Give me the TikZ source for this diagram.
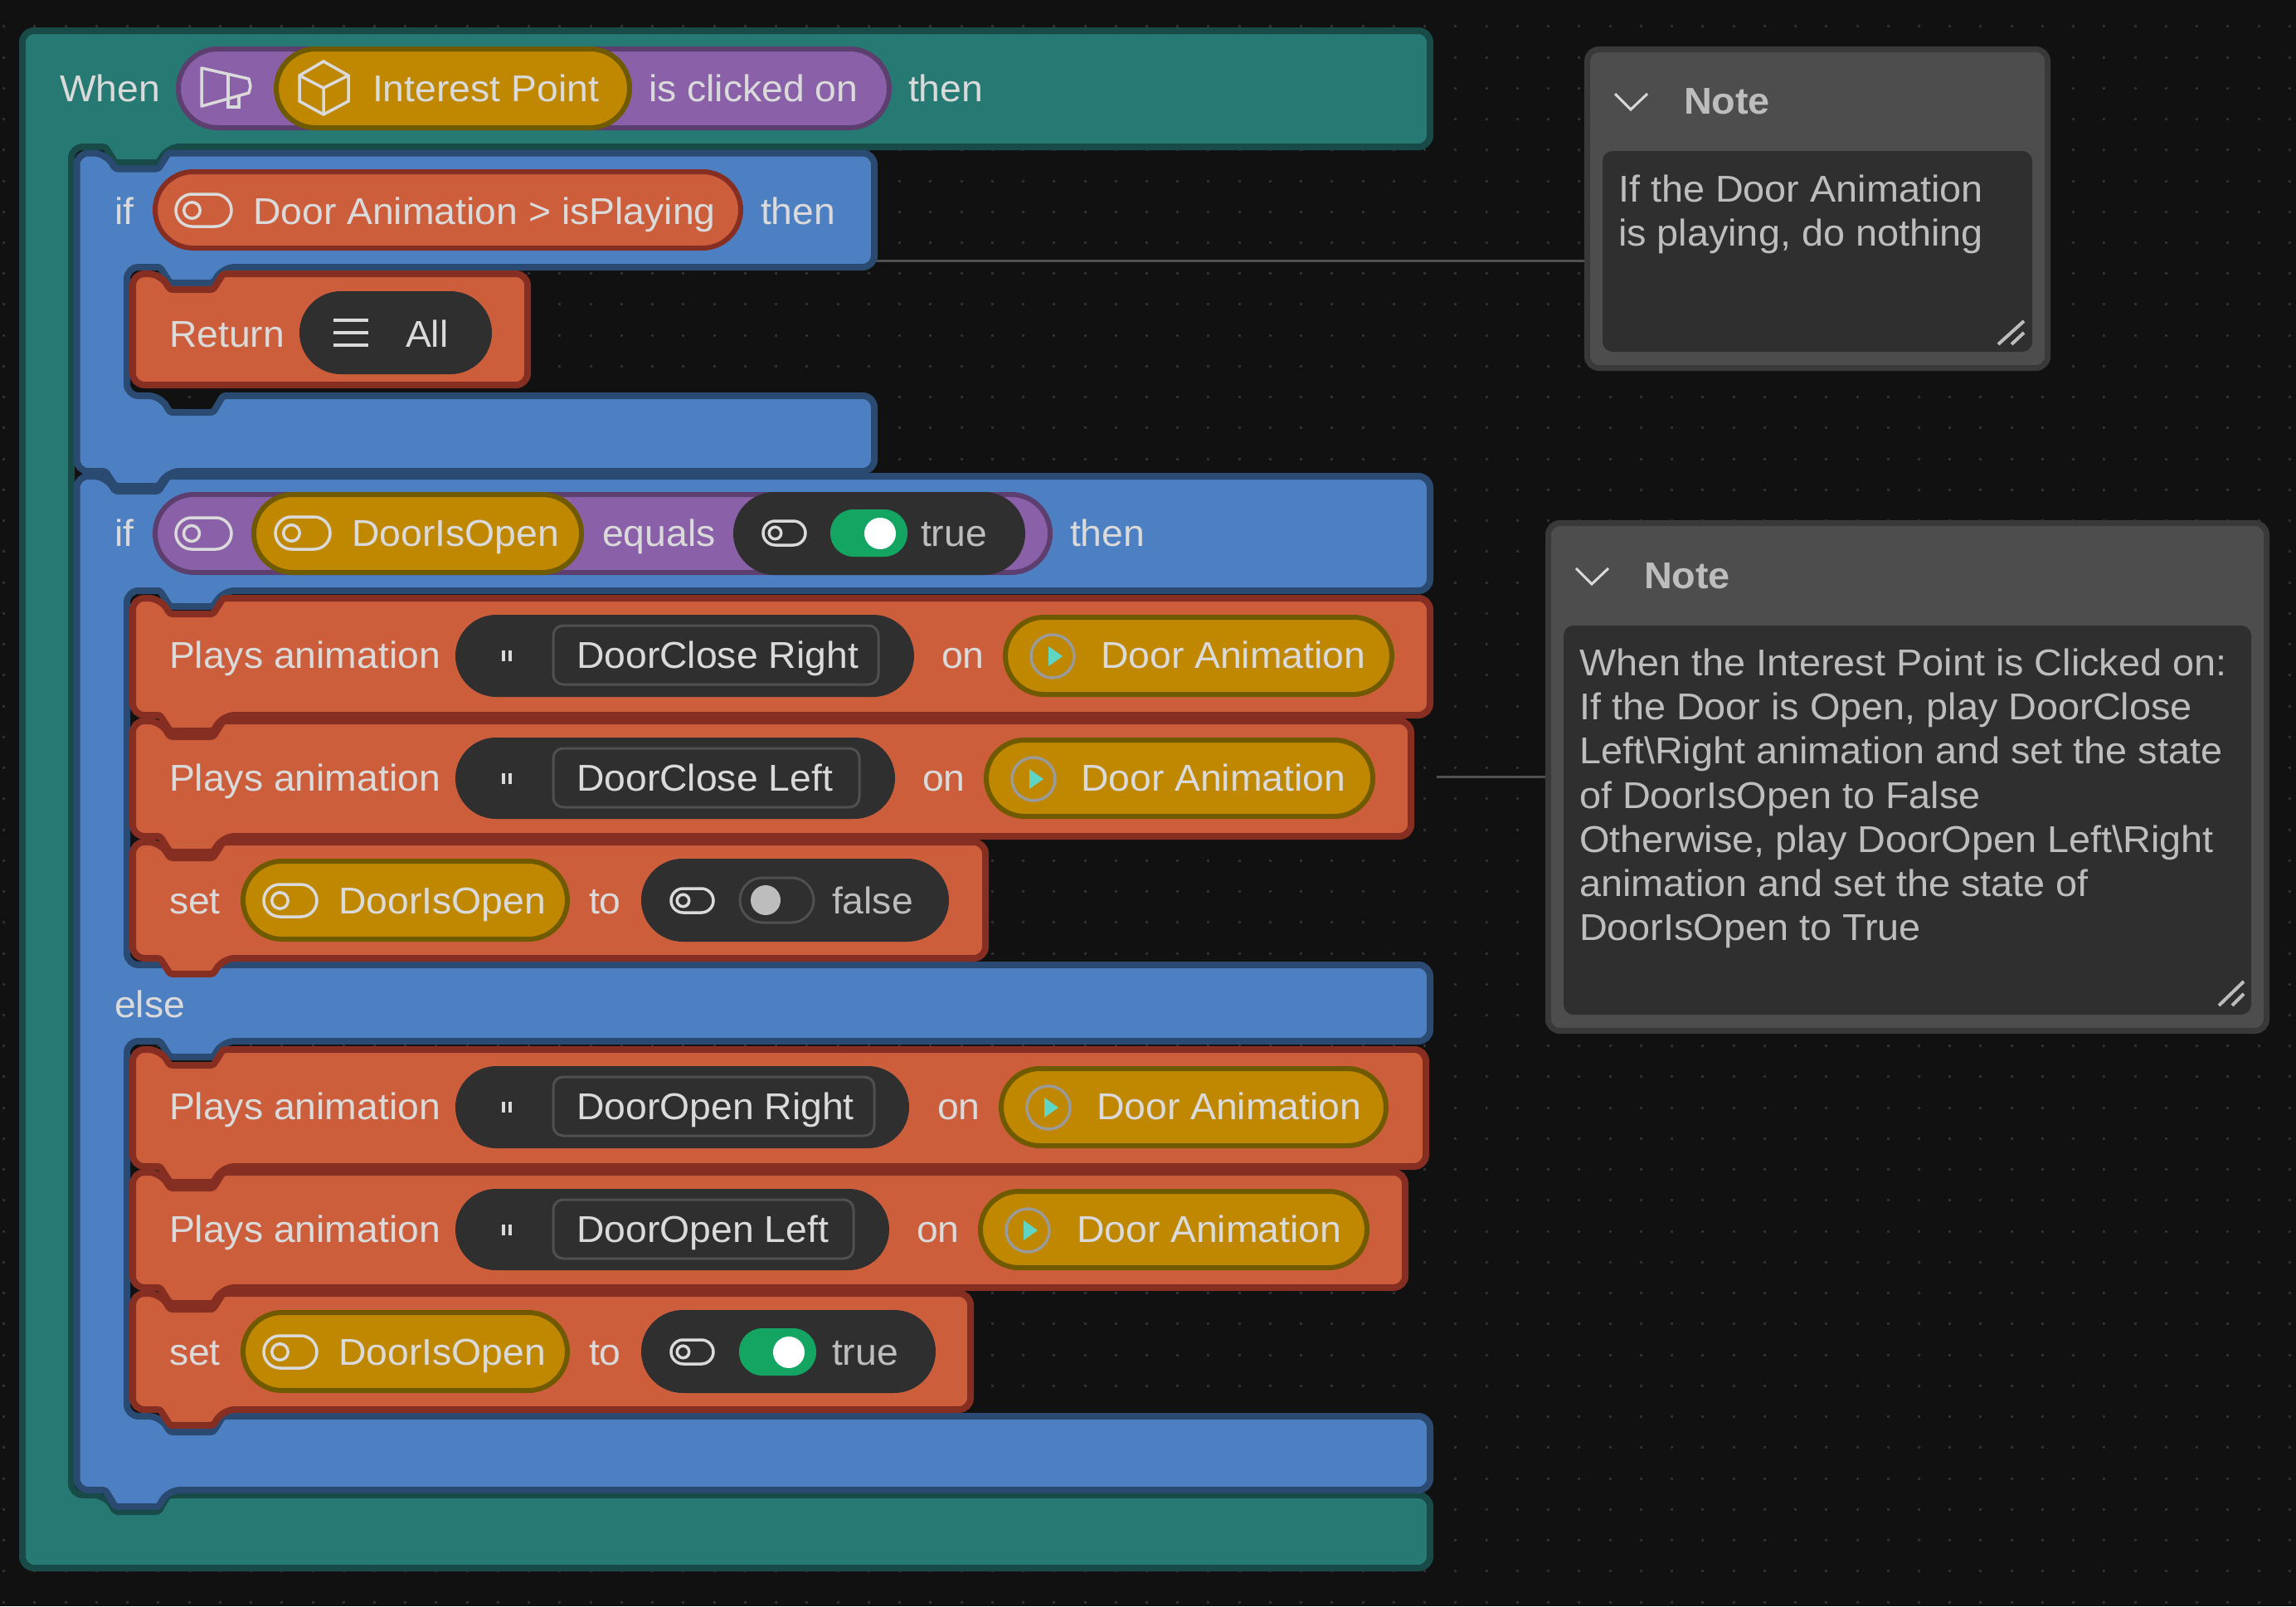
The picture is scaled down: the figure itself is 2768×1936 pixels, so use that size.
\documentclass[tikz,border=0pt]{standalone}
\usepackage{fontspec}
\setmainfont[FakeStretch=1.03]{Liberation Sans}
\newfontfamily\notefont[FakeStretch=1.04]{Liberation Sans}
\usetikzlibrary{calc}
\definecolor{bgc}{HTML}{111111}
\definecolor{dotc}{HTML}{303030}
\definecolor{tealf}{HTML}{267A73}
\definecolor{teald}{HTML}{184A47}
\definecolor{bluef}{HTML}{4D80C2}
\definecolor{blued}{HTML}{2B4A72}
\definecolor{orf}{HTML}{CC5E3B}
\definecolor{ord}{HTML}{862E22}
\definecolor{purf}{HTML}{8A60A8}
\definecolor{purd}{HTML}{5C3F6E}
\definecolor{goldf}{HTML}{C08800}
\definecolor{goldd}{HTML}{6F5A00}
\definecolor{darkp}{HTML}{2F2F2F}
\definecolor{boxl}{HTML}{505050}
\definecolor{txt}{HTML}{DADADA}
\definecolor{notef}{HTML}{4D4D4D}
\definecolor{noted}{HTML}{393939}
\definecolor{notet}{HTML}{BDBDBD}
\definecolor{greenf}{HTML}{13A561}
\definecolor{playc}{HTML}{9A9A9A}
\definecolor{playt}{HTML}{5FD6C4}
\tikzset{
  x=1pt,y=-1pt,
  teal block/.style={fill=tealf,draw=teald,line width=8pt,rounded corners=14pt},
  blue block/.style={fill=bluef,draw=blued,line width=8pt,rounded corners=14pt},
  orange block/.style={fill=orf,draw=ord,line width=8pt,rounded corners=14pt},
  lbl/.style={anchor=base west,inner sep=0pt,outer sep=0pt,text=txt,font=\fontsize{45}{53}\selectfont},
  lblg/.style={lbl,text=notet},
  icon/.style={draw=txt,line width=3.5pt,fill=none},
  connector/.style={draw=boxl,line width=3pt},
  notebody/.style={fill=notef,draw=noted,line width=7pt,rounded corners=14pt,anchor=north west,inner sep=0pt},
  noteinner/.style={fill=darkp,rounded corners=12pt},
  notetext/.style={anchor=base west,inner sep=0pt,outer sep=0pt,text=notet,font=\notefont\fontsize{45}{53}\selectfont},
  notetitle/.style={anchor=base west,inner sep=0pt,outer sep=0pt,text=notet,font=\notefont\fontsize{45}{53}\selectfont\bfseries},
  grip/.style={draw=notet,line width=4pt},
  chev/.style={draw=txt,line width=3pt},
}
% notches: centre x, y, depth. R runs rightwards, L runs leftwards
\newcommand{\notchR}[3]{-- ({#1-38},#2) [rounded corners=3pt] -- ({#1-26},{#2+#3}) -- ({#1+26},{#2+#3}) -- ({#1+38},#2) -- ({#1+50},#2) [rounded corners=14pt]}
\newcommand{\notchL}[3]{-- ({#1+38},#2) [rounded corners=3pt] -- ({#1+26},{#2+#3}) -- ({#1-26},{#2+#3}) -- ({#1-38},#2) -- ({#1-50},#2) [rounded corners=14pt]}
% pill: x0 y0 x1 y1 fill border
\newcommand{\pillb}[6]{%
  \pgfmathsetmacro{\rr}{(#4-#2-6)/2}%
  \draw[fill=#5,draw=#6,line width=6pt,rounded corners=\rr pt] (#1+3,#2+3) rectangle (#3-3,#4-3);}
\newcommand{\pilld}[4]{%
  \pgfmathsetmacro{\rr}{(#4-#2)/2}%
  \fill[darkp,rounded corners=\rr pt] (#1,#2) rectangle (#3,#4);}
\newcommand{\toggleic}[4]{%
  \pgfmathsetmacro{\rr}{(#4-#2)/2}%
  \pgfmathsetmacro{\ky}{(#4+#2)/2}%
  \draw[icon,rounded corners=\rr pt] (#1,#2) rectangle (#3,#4);
  \draw[icon] (#1+\rr,\ky) circle[radius=0.5*\rr];}
\newcommand{\playic}[2]{%
  \draw[playc,line width=3.5pt] (#1,#2) circle[radius=26];
  \fill[playt] (#1-5,#2-12) -- (#1+12,#2) -- (#1-5,#2+12) -- cycle;}
\newcommand{\quoteic}[2]{%
  \fill[txt] (#1-6,#2-7) rectangle (#1-2,#2+6);
  \fill[txt] (#1+2,#2-7) rectangle (#1+6,#2+6);}
\newcommand{\orblock}[4]{%
  \draw[orange block] (#1,#2) \notchR{231}{#2}{19} -- (#3,#2) -- (#3,#4)
    \notchL{231}{#4}{19} -- (#1,#4) -- cycle;}
\begin{document}
\begin{tikzpicture}
\useasboundingbox (0,0) rectangle (2768,1936);
\fill[bgc] (0,0) rectangle (2768,1936);
\foreach \i in {0,...,74}{\foreach \j in {0,...,51}{
  \fill[dotc] ({4.6+37.24*\i-1.5},{31.8+37.24*\j-1.5}) rectangle +(3,3);}}
\coordinate (blueA) at (1054,314);
\coordinate (rowB) at (1732,936);
% notes
\node[notebody,minimum width=555pt,minimum height=384pt] (noteA) at (1910,56) {};
\fill[noteinner] (1932,182) rectangle (2450,424);
\node[notebody,minimum width=866pt,minimum height=612pt] (noteB) at (1863,627) {};
\fill[noteinner] (1885,754) rectangle (2714,1223);
\draw[connector] (blueA) -- (blueA -| noteA.west);
\draw[connector] (rowB) -- (rowB -| noteB.west);
\draw[chev] (1947,113) -- (1966,132) -- (1986,113);
\node[notetitle] (ntA) at (2030,137) {Note};
\node[notetext] (naA) at (1951,243) {If the Door Animation};
\node[notetext] (naB) at (1951,296) {is playing, do nothing};
\draw[grip] (2409,415) -- (2440,387);
\draw[grip] (2425,415) -- (2440,401);
\draw[chev] (1900,685) -- (1919,704) -- (1939,685);
\node[notetitle] (ntB) at (1982,709) {Note};
\node[notetext] (nb1) at (1904,814) {When the Interest Point is Clicked on:};
\node[notetext] (nb2) at (1904,867) {If the Door is Open, play DoorClose};
\node[notetext] (nb3) at (1904,920) {Left\textbackslash Right animation and set the state};
\node[notetext] (nb4) at (1904,974) {of DoorIsOpen to False};
\node[notetext] (nb5) at (1904,1027) {Otherwise, play DoorOpen Left\textbackslash Right};
\node[notetext] (nb6) at (1904,1080) {animation and set the state of};
\node[notetext] (nb7) at (1904,1133) {DoorIsOpen to True};
\draw[grip] (2675,1212) -- (2705,1183);
\draw[grip] (2691,1212) -- (2705,1198);
% teal C block
\draw[teal block] (27,37) -- (1724,37) -- (1724,177) \notchL{165}{177}{19} -- (86,177)
  -- (86,1802) \notchR{165}{1802}{20} -- (1724,1802) -- (1724,1890) -- (27,1890) -- cycle;
% blue 1
\draw[blue block] (92.5,184.5) \notchR{165}{184.5}{19} -- (1054,184.5) -- (1054,322)
  \notchL{231}{322}{19} -- (153,322)
  -- (153,477) \notchR{231}{477}{20} -- (1054,477) -- (1054,568)
  \notchL{165}{568}{18} -- (92.5,568) -- cycle;
% blue 2
\draw[blue block] (92.5,574) \notchR{165}{574}{18} -- (1724,574) -- (1724,712)
  \notchL{231}{712}{19} -- (153,712)
  -- (153,1163) -- (1724,1163) -- (1724,1255)
  \notchL{231}{1255}{19} -- (153,1255)
  -- (153,1707) \notchR{231}{1707}{19} -- (1724,1707) -- (1724,1796)
  \notchL{165}{1796}{20} -- (92.5,1796) -- cycle;
% return block (no tab)
\draw[orange block] (160,330) \notchR{231}{330}{19} -- (636,330) -- (636,464) -- (160,464) -- cycle;
% orange rows, bottom up so each tab sits above the next block
\orblock{160}{1559}{1170}{1699}
\orblock{160}{1413}{1694}{1552}
\orblock{160}{1265}{1719}{1406}
\orblock{160}{1015}{1188}{1155}
\orblock{160}{869}{1701}{1008}
\orblock{160}{721}{1724}{862}
% --- header row
\node[lbl] (tWhen) at (72,122) {When};
\pillb{212}{56}{1075}{157}{purf}{purd}
\pillb{330}{56}{762}{157}{goldf}{goldd}
\draw[icon,line join=round] (243,82) -- (243,128) -- (300,112) -- (302,104) -- (300,95) -- cycle;
\draw[icon] (275,89) -- (275,129) -- (288,129) -- (288,116);
\draw[icon] (390,74) -- (420,91) -- (420,122) -- (390,138) -- (361,122) -- (361,91) -- cycle;
\draw[icon] (361,91) -- (390,106) -- (420,91) (390,106) -- (390,138);
\node[lbl] (tIP) at (449,122) {Interest Point};
\node[lbl] (tClick) at (782,122) {is clicked on};
\node[lbl] (tThen1) at (1095,122) {then};
% --- if 1
\node[lbl] (tIf1) at (138,270) {if};
\pillb{184}{204}{896}{302}{orf}{ord}
\toggleic{212}{234}{279}{273}
\node[lbl] (tDA) at (305,270) {Door Animation > isPlaying};
\node[lbl] (tThen2) at (917,270) {then};
% --- return
\node[lbl] (tRet) at (204,418) {Return};
\pilld{361}{351}{593}{451}
\draw[icon] (402,386) -- (444,386) (402,401) -- (444,401) (402,416) -- (444,416);
\node[lbl] (tAll) at (489,418) {All};
% --- if 2
\node[lbl] (tIf2) at (138,658) {if};
\pillb{184}{593}{1269}{693}{purf}{purd}
\toggleic{212}{624}{279}{662}
\pillb{303}{593}{704}{693}{goldf}{goldd}
\toggleic{332}{623}{398}{662}
\node[lbl] (tDO1) at (424,658) {DoorIsOpen};
\node[lbl] (tEq) at (726,658) {equals};
\pilld{884}{593}{1236}{693}
\toggleic{920}{628}{971}{657}
\fill[greenf,rounded corners=28pt] (1001,614) rectangle (1094,671);
\fill[white] (1061,643) circle[radius=19];
\node[lblg] (tTrue1) at (1110,658) {true};
\node[lbl] (tThen3) at (1290,658) {then};
% --- plays 1
\node[lbl] (tP1) at (204,805) {Plays animation};
\pilld{549}{741}{1102}{840}
\quoteic{611}{791}
\draw[boxl,line width=3pt,rounded corners=12pt] (667,754) rectangle (1059,825);
\node[lbl] (tS1) at (695,805) {DoorClose Right};
\node[lbl] (tOn1) at (1135,805) {on};
\pillb{1209}{741}{1681}{840}{goldf}{goldd}
\playic{1269}{791}
\node[lbl] (tA1) at (1327,805) {Door Animation};
% --- plays 2
\node[lbl] (tP2) at (204,953) {Plays animation};
\pilld{549}{889}{1079}{987}
\quoteic{611}{939}
\draw[boxl,line width=3pt,rounded corners=12pt] (667,902) rectangle (1036,973);
\node[lbl] (tS2) at (695,953) {DoorClose Left};
\node[lbl] (tOn2) at (1112,953) {on};
\pillb{1186}{889}{1658}{987}{goldf}{goldd}
\playic{1246}{939}
\node[lbl] (tA2) at (1303,953) {Door Animation};
% --- set 1
\node[lbl] (tSet1) at (204,1101) {set};
\pillb{290}{1035}{687}{1135}{goldf}{goldd}
\toggleic{318}{1066}{382}{1105}
\node[lbl] (tDO2) at (408,1101) {DoorIsOpen};
\node[lbl] (tTo1) at (710,1101) {to};
\pilld{773}{1035}{1144}{1135}
\toggleic{809}{1071}{860}{1100}
\draw[fill=darkp,draw=boxl,line width=3pt,rounded corners=27pt] (892,1058) rectangle (981,1112);
\fill[notet] (923,1085) circle[radius=18];
\node[lblg] (tFalse) at (1003,1101) {false};
% --- else
\node[lbl] (tElse) at (138,1226) {else};
% --- plays 3
\node[lbl] (tP3) at (204,1349) {Plays animation};
\pilld{549}{1285}{1096}{1384}
\quoteic{611}{1335}
\draw[boxl,line width=3pt,rounded corners=12pt] (667,1298) rectangle (1054,1369);
\node[lbl] (tS3) at (695,1349) {DoorOpen Right};
\node[lbl] (tOn3) at (1130,1349) {on};
\pillb{1204}{1285}{1674}{1384}{goldf}{goldd}
\playic{1264}{1335}
\node[lbl] (tA3) at (1322,1349) {Door Animation};
% --- plays 4
\node[lbl] (tP4) at (204,1497) {Plays animation};
\pilld{549}{1433}{1072}{1531}
\quoteic{611}{1483}
\draw[boxl,line width=3pt,rounded corners=12pt] (667,1446) rectangle (1029,1517);
\node[lbl] (tS4) at (695,1497) {DoorOpen Left};
\node[lbl] (tOn4) at (1105,1497) {on};
\pillb{1179}{1433}{1651}{1531}{goldf}{goldd}
\playic{1239}{1483}
\node[lbl] (tA4) at (1298,1497) {Door Animation};
% --- set 2
\node[lbl] (tSet2) at (204,1645) {set};
\pillb{290}{1579}{687}{1679}{goldf}{goldd}
\toggleic{318}{1610}{382}{1649}
\node[lbl] (tDO3) at (408,1645) {DoorIsOpen};
\node[lbl] (tTo2) at (710,1645) {to};
\pilld{773}{1579}{1128}{1679}
\toggleic{809}{1615}{860}{1644}
\fill[greenf,rounded corners=28pt] (891,1601) rectangle (984,1658);
\fill[white] (951,1630) circle[radius=19];
\node[lblg] (tTrue2) at (1003,1645) {true};
\end{tikzpicture}
\end{document}
